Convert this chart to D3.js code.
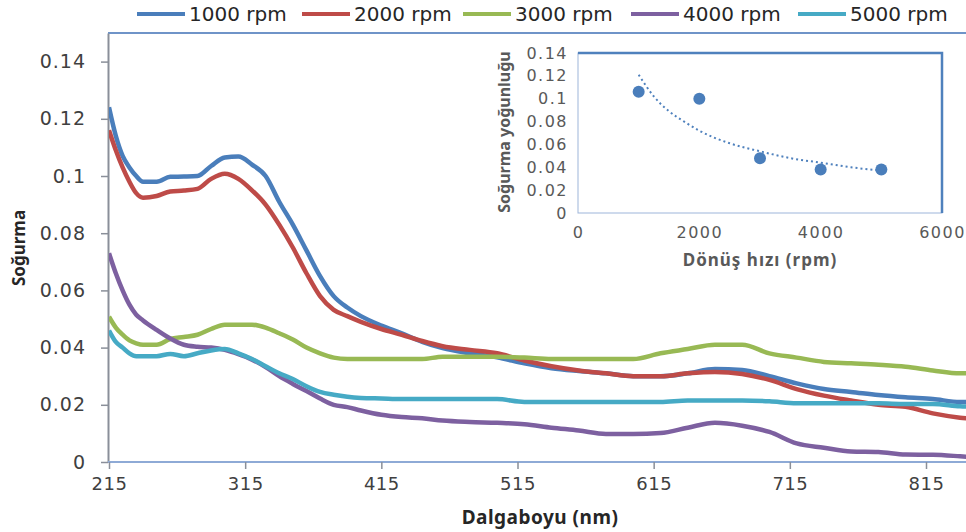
<!DOCTYPE html>
<html>
<head>
<meta charset="utf-8">
<script src="https://cdn.jsdelivr.net/npm/d3@7"></script>
<style>
  body { margin: 0; background: #fff; }
  svg { display: block; }
</style>
</head>
<body>
<svg id="chart"></svg>
<script>
// wavelengths (nm)
const wavelengths = [215, 220, 225, 230, 235, 240, 250, 260, 270, 280, 290, 300, 310, 320, 330, 340, 350, 360, 370, 380, 390, 400, 415, 430, 445, 460, 480, 500, 520, 540, 560, 580, 600, 620, 640, 660, 680, 700, 720, 740, 760, 780, 800, 820, 840, 850];

const rpm1000 = [0.124, 0.114, 0.107, 0.103, 0.100, 0.098, 0.098, 0.0997, 0.0998, 0.100, 0.1035, 0.1065, 0.1068, 0.104, 0.100, 0.091, 0.083, 0.074, 0.065, 0.058, 0.054, 0.051, 0.0477, 0.045, 0.042, 0.0398, 0.038, 0.0366, 0.0345, 0.0328, 0.0318, 0.031, 0.030, 0.030, 0.031, 0.0325, 0.0322, 0.030, 0.0275, 0.0255, 0.0245, 0.0234, 0.0226, 0.022, 0.021, 0.021];
const rpm2000 = [0.116, 0.109, 0.103, 0.098, 0.094, 0.0924, 0.093, 0.0946, 0.0949, 0.0955, 0.099, 0.1008, 0.099, 0.095, 0.090, 0.083, 0.075, 0.066, 0.058, 0.0532, 0.051, 0.049, 0.0465, 0.0445, 0.0423, 0.0405, 0.0392, 0.038, 0.0355, 0.0335, 0.032, 0.031, 0.030, 0.030, 0.031, 0.0315, 0.0308, 0.0287, 0.0255, 0.0232, 0.0215, 0.020, 0.0193, 0.017, 0.0155, 0.015];
const rpm3000 = [0.0508, 0.047, 0.0445, 0.0425, 0.0415, 0.041, 0.041, 0.043, 0.0437, 0.0445, 0.0465, 0.048, 0.048, 0.048, 0.047, 0.045, 0.0428, 0.040, 0.038, 0.0365, 0.036, 0.036, 0.036, 0.036, 0.036, 0.0368, 0.0368, 0.0368, 0.0365, 0.036, 0.036, 0.036, 0.036, 0.038, 0.0395, 0.041, 0.041, 0.038, 0.0365, 0.035, 0.0345, 0.034, 0.0333, 0.032, 0.031, 0.031];
const rpm4000 = [0.073, 0.066, 0.060, 0.055, 0.0515, 0.0495, 0.0462, 0.0432, 0.041, 0.0403, 0.040, 0.0392, 0.0377, 0.0358, 0.0332, 0.030, 0.0273, 0.0248, 0.0222, 0.020, 0.0192, 0.018, 0.0165, 0.0157, 0.0153, 0.0145, 0.014, 0.0137, 0.0132, 0.012, 0.011, 0.0098, 0.0098, 0.0101, 0.012, 0.0137, 0.0127, 0.0105, 0.0065, 0.005, 0.0037, 0.0035, 0.0026, 0.0025, 0.002, 0.0017];
const rpm5000 = [0.046, 0.042, 0.040, 0.038, 0.037, 0.037, 0.037, 0.0378, 0.037, 0.038, 0.039, 0.0395, 0.038, 0.036, 0.0335, 0.031, 0.029, 0.0265, 0.0245, 0.0235, 0.0228, 0.0224, 0.0222, 0.022, 0.022, 0.022, 0.022, 0.022, 0.021, 0.021, 0.021, 0.021, 0.021, 0.021, 0.0215, 0.0215, 0.0215, 0.0212, 0.0205, 0.0205, 0.0205, 0.0205, 0.0203, 0.0203, 0.0195, 0.0193];

const seriesNames = ['1000 rpm', '2000 rpm', '3000 rpm', '4000 rpm', '5000 rpm'];
const seriesColors = ['#4a7ebb', '#be4b48', '#98b954', '#7d60a0', '#46aac5'];
const xTicks = [215, 315, 415, 515, 615, 715, 815];
const yTicks = [0, 0.02, 0.04, 0.06, 0.08, 0.1, 0.12, 0.14];

// inset: speed vs absorbance
const speeds = [1000, 2000, 3000, 4000, 5000];
const peakAbs = [0.106, 0.100, 0.048, 0.038, 0.038];
const trendX = [1000, 1250, 1500, 1750, 2000, 2500, 3000, 3500, 4000, 4500, 5000];
const trendY = [0.121, 0.102, 0.089, 0.080, 0.072, 0.061, 0.054, 0.048, 0.044, 0.040, 0.037];
const insetXTicks = [0, 2000, 4000, 6000];
const insetYTicks = [0, 0.02, 0.04, 0.06, 0.08, 0.1, 0.12, 0.14];

const W = 966, H = 532;
const svg = d3.select('#chart').attr('width', W).attr('height', H);
svg.append('rect').attr('width', W).attr('height', H).attr('fill', '#fff');

const fmt = d3.format('~g');

// main scales
const x = d3.scaleLinear().domain([215, 815]).range([109, 926]);
const y = d3.scaleLinear().domain([0, 0.15]).range([462, 33]);

svg.append('clipPath').attr('id', 'clip')
	.append('rect').attr('x', 109).attr('y', 0).attr('width', W - 109).attr('height', 463);

// top border of plot
svg.append('line')
	.attr('x1', 108).attr('x2', W).attr('y1', 33).attr('y2', 33)
	.attr('stroke', '#6f94c8').attr('stroke-width', 2);

// y axis
const yAxis = svg.append('g')
	.attr('transform', 'translate(108,0)')
	.call(d3.axisLeft(y).tickValues(yTicks).tickFormat(fmt).tickSize(7).tickSizeOuter(0).tickPadding(15));
yAxis.select('.domain').attr('stroke', '#8a8f99').attr('stroke-width', 2);
yAxis.selectAll('.tick line').attr('stroke', '#8a8f99').attr('stroke-width', 1.5);
yAxis.selectAll('text')
	.attr('font-family', 'DejaVu Sans').attr('font-size', 19).attr('letter-spacing', 1)
	.attr('fill', '#404040');

// x axis
const xAxis = svg.append('g')
	.attr('transform', 'translate(0,462)')
	.call(d3.axisBottom(x).tickValues(xTicks).tickSize(7).tickSizeOuter(0).tickPadding(8));
xAxis.select('.domain').attr('d', `M108,0H${W}`).attr('stroke', '#8eaad6').attr('stroke-width', 2);
xAxis.selectAll('.tick line').attr('stroke', '#8a8f99').attr('stroke-width', 1.5);
xAxis.selectAll('text')
	.attr('font-family', 'DejaVu Sans').attr('font-size', 18).attr('letter-spacing', 0.5)
	.attr('fill', '#404040');

// lines
const allSeries = [rpm1000, rpm2000, rpm3000, rpm4000, rpm5000];
const line = d3.line()
	.x((d, i) => x(wavelengths[i]))
	.y(d => y(d))
	.curve(d3.curveMonotoneX);

svg.append('g').attr('clip-path', 'url(#clip)')
	.selectAll('path')
	.data(allSeries)
	.enter()
	.append('path')
	.attr('d', d => line(d))
	.attr('fill', 'none')
	.attr('stroke', (d, i) => seriesColors[i])
	.attr('stroke-width', 4.5)
	.attr('stroke-linejoin', 'round');

// axis titles
svg.append('text')
	.attr('x', 540).attr('y', 524)
	.attr('text-anchor', 'middle')
	.attr('font-family', 'Noto Sans').attr('font-weight', 'bold').attr('font-size', 19)
	.attr('letter-spacing', 0.5)
	.attr('fill', '#262626')
	.text('Dalgaboyu (nm)');

svg.append('text')
	.attr('transform', 'translate(25,248) rotate(-90)')
	.attr('text-anchor', 'middle')
	.attr('font-family', 'Noto Sans').attr('font-weight', 'bold').attr('font-size', 17)
	.attr('fill', '#262626')
	.text('Soğurma');

// legend
const legendX = [137, 302, 463, 631, 798];
const legend = svg.append('g').selectAll('g')
	.data(seriesNames)
	.enter()
	.append('g')
	.attr('transform', (d, i) => `translate(${legendX[i]},14)`);
legend.append('line')
	.attr('x1', 0).attr('x2', 48).attr('y1', 0).attr('y2', 0)
	.attr('stroke', (d, i) => seriesColors[i]).attr('stroke-width', 4);
legend.append('text')
	.attr('x', 52).attr('y', 7)
	.attr('font-family', 'DejaVu Sans').attr('font-size', 20).attr('fill', '#262626')
	.text(d => d);

// inset chart
const ix = d3.scaleLinear().domain([0, 6000]).range([578, 942]);
const iy = d3.scaleLinear().domain([0, 0.14]).range([213, 53]);
const inset = svg.append('g');

inset.append('rect')
	.attr('x', 578).attr('y', 53).attr('width', 364).attr('height', 160)
	.attr('fill', '#fff').attr('stroke', '#9db5da').attr('stroke-width', 1);
inset.append('path')
	.attr('d', 'M578,53H942V213')
	.attr('fill', 'none').attr('stroke', '#4f81bd').attr('stroke-width', 2.5);

const iyAxis = inset.append('g')
	.attr('transform', 'translate(578,0)')
	.call(d3.axisLeft(iy).tickValues(insetYTicks).tickFormat(fmt).tickSize(0).tickPadding(10));
iyAxis.select('.domain').remove();
iyAxis.selectAll('text')
	.attr('font-family', 'DejaVu Sans').attr('font-size', 16).attr('letter-spacing', 1.5)
	.attr('fill', '#595959');

const ixAxis = inset.append('g')
	.attr('transform', 'translate(0,213)')
	.call(d3.axisBottom(ix).tickValues(insetXTicks).tickFormat(d3.format('d')).tickSize(0).tickPadding(14));
ixAxis.select('.domain').remove();
ixAxis.selectAll('text')
	.attr('font-family', 'DejaVu Sans').attr('font-size', 16).attr('letter-spacing', 1.5)
	.attr('fill', '#595959');

const trendLine = d3.line()
	.x((d, i) => ix(trendX[i]))
	.y(d => iy(d))
	.curve(d3.curveMonotoneX);
inset.append('path')
	.attr('d', trendLine(trendY))
	.attr('fill', 'none')
	.attr('stroke', '#4f81bd').attr('stroke-width', 2)
	.attr('stroke-dasharray', '2,3');

inset.selectAll('circle')
	.data(peakAbs)
	.enter()
	.append('circle')
	.attr('cx', (d, i) => ix(speeds[i]))
	.attr('cy', d => iy(d))
	.attr('r', 6)
	.attr('fill', '#4a7ebb');

inset.append('text')
	.attr('x', 760).attr('y', 266)
	.attr('text-anchor', 'middle')
	.attr('font-family', 'Noto Sans').attr('font-weight', 'bold').attr('font-size', 17)
	.attr('letter-spacing', 1)
	.attr('fill', '#595959')
	.text('Dönüş hızı (rpm)');

inset.append('text')
	.attr('transform', 'translate(510,132) rotate(-90)')
	.attr('text-anchor', 'middle')
	.attr('font-family', 'Noto Sans').attr('font-weight', 'bold').attr('font-size', 16)
	.attr('fill', '#595959')
	.text('Soğurma yoğunluğu');
</script>
</body>
</html>
